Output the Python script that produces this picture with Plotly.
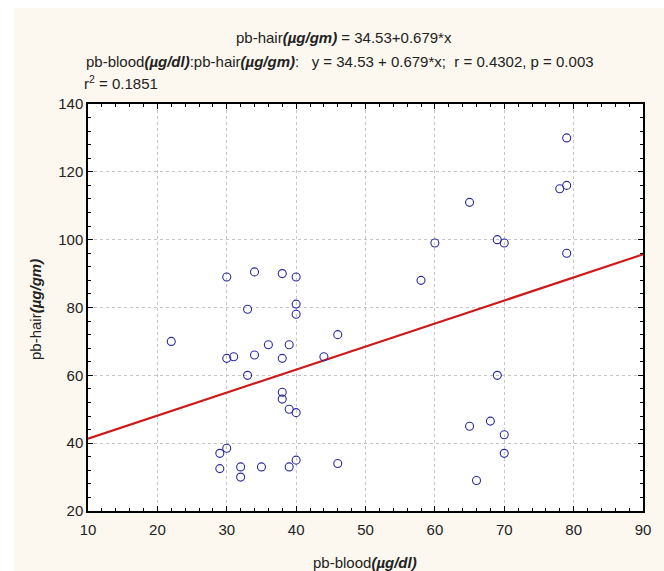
import plotly.graph_objects as go

# data
pb_blood = [33, 40, 40, 46, 22, 36, 39, 30, 31, 34, 38, 44, 33, 38, 38, 39, 40,
            30, 29, 29, 32, 32, 35, 39, 40, 46,
            30, 34, 38, 40,
            79, 79, 78, 65, 60, 69, 70, 79, 58,
            69, 68, 65, 70, 70, 66]
pb_hair = [79.5, 81, 78, 72, 70, 69, 69, 65, 65.5, 66, 65, 65.5, 60, 55, 53, 50, 49,
           38.5, 37, 32.5, 33, 30, 33, 33, 35, 34,
           89, 90.5, 90, 89,
           130, 116, 115, 111, 99, 100, 99, 96, 88,
           60, 46.5, 45, 42.5, 37, 29]
intercept = 34.53
slope = 0.679
x_range = [10, 90]
y_range = [20, 140]

font = "Liberation Sans, Arial, sans-serif"
txt = "#222222"
cream = "#FCF8EF"

fig = go.Figure()
fig.add_trace(go.Scatter(
    x=x_range, y=[intercept + slope * v for v in x_range], mode="lines",
    line=dict(color="#D01818", width=2.2), hoverinfo="skip", showlegend=False))
fig.add_trace(go.Scatter(
    x=pb_blood, y=pb_hair, mode="markers",
    marker=dict(symbol="circle-open", size=8, color="#2B2BA0", line=dict(width=1.1)),
    showlegend=False))

axis_common = dict(
    showline=True, linecolor="black", linewidth=1.5, mirror="ticks",
    ticks="inside", ticklen=5, tickwidth=1.2, tickcolor="black",
    showgrid=True, gridcolor="#C4C4C4", griddash="dot", gridwidth=1,
    zeroline=False, tickfont=dict(family=font, size=15, color=txt),
)
fig.update_xaxes(range=x_range, dtick=10, tick0=10, ticklabelstandoff=4,
                 minor=dict(ticks="inside", dtick=2, ticklen=3, tickcolor="black", showgrid=False),
                 **axis_common)
fig.update_yaxes(range=y_range, dtick=20, tick0=20,
                 minor=dict(ticks="inside", dtick=4, ticklen=3, tickcolor="black", showgrid=False),
                 **axis_common)

L, R, T, B = 88, 21, 104, 60
W, H = 664, 571
pw, ph = W - L - R, H - T - B

def px(xp):
    return (xp - L) / pw

def py(yp):
    return (H - B - yp) / ph

ann = [
    dict(text="pb-hair<b><i>(µg/gm)</i></b> = 34.53+0.679*x", x=px(234), y=py(37), xanchor="left"),
    dict(text="pb-blood<b><i>(µg/dl)</i></b>:pb-hair<b><i>(µg/gm)</i></b>:   y = 34.53 + 0.679*x;  r = 0.4302, p = 0.003",
         x=px(84), y=py(62), xanchor="left"),
    dict(text="r<sup>2</sup> = 0.1851", x=px(82), y=py(83), xanchor="left"),
    dict(text="pb-blood<b><i>(µg/dl)</i></b>", x=px(365), y=py(562), xanchor="center"),
    dict(text="pb-hair<b><i>(µg/gm)</i></b>", x=px(35), y=py(310), xanchor="center", textangle=-90),
]
for a in ann:
    fig.add_annotation(xref="paper", yref="paper", yanchor="middle", showarrow=False,
                       font=dict(family=font, size=15, color=txt), **a)

# white strips at the top and left edge of the image
fig.add_shape(type="rect", xref="paper", yref="paper", x0=px(0), x1=px(W), y0=py(8), y1=py(0),
              fillcolor="white", line=dict(width=0), layer="below")
fig.add_shape(type="rect", xref="paper", yref="paper", x0=px(0), x1=px(14), y0=py(H), y1=py(0),
              fillcolor="white", line=dict(width=0), layer="below")

fig.update_layout(
    width=W, height=H, margin=dict(l=L, r=R, t=T, b=B),
    paper_bgcolor=cream, plot_bgcolor="white",
    font=dict(family=font, color=txt),
)
fig.write_html("out.html")
